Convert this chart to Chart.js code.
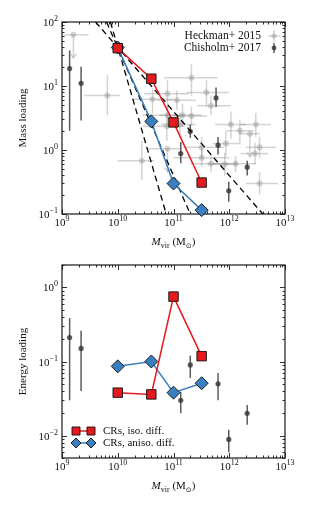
<!DOCTYPE html>
<html>
<head>
<meta charset="utf-8">
<script src="https://cdn.jsdelivr.net/npm/chart.js@4.4.1/dist/chart.umd.min.js"></script>
<style>
    html, body { margin: 0; padding: 0; background: #fff; }
    #wrap { position: relative; width: 315px; height: 510px; }
    canvas { position: absolute; left: 0; }
</style>
</head>
<body>
<div id="wrap">
    <canvas id="massChart" width="315" height="250" style="top:0"></canvas>
    <canvas id="energyChart" width="315" height="260" style="top:250px"></canvas>
</div>
<script>
// ---- simulation results ----
const simMass = [1e10, 4e10, 1e11, 3.2e11];
const isoMassLoading = [39, 13, 2.7, 0.31];
const anisoMassLoading = [40, 2.8, 0.3, 0.115];
const isoEnergyLoading = [0.038, 0.036, 0.75, 0.118];
const anisoEnergyLoading = [0.086, 0.10, 0.038, 0.051];

// ---- dashed guide lines (endpoints) ----
const guideMass = [[4e9, 4e12], [6.3e9, 2e11], [7.4e9, 7.4e10]];
const guideLoading = [100, 0.1];

// ---- Heckman+ 2015 (mass loading) ----
const heckmanMass   = [1.6e9, 6.5e9, 2.1e11, 7.8e10, 4.2e10, 3.9e11, 4.7e11, 1.15e11, 1.45e11, 2.1e11,
                       7.8e10, 7.6e10, 7.8e10, 2.7e10, 3.2e11, 3.2e11, 4.7e11, 1.07e12, 1.55e12, 2.35e12,
                       3.0e12, 3.5e12, 2.9e12, 1.3e12, 3.5e12, 8.7e11, 8.3e11, 1.3e11];
const heckmanEta    = [63, 7.1, 13.5, 7.6, 6.2, 7.9, 4.9, 6.0, 3.5, 3.4,
                       3.5, 2.35, 1.05, 0.68, 1.1, 0.76, 0.61, 2.5, 2.0, 1.8,
                       2.5, 1.1, 0.88, 0.61, 0.30, 1.26, 0.6, 2.5];
const heckmanMassLo = [1.07e9, 2.5e9, 6.8e10, 3.0e10, 1.8e10, 1.7e11, 2.7e11, 5e10, 5.6e10, 1.0e11,
                       2.8e10, 2.8e10, 3.5e10, 1.0e10, 1.5e11, 1.0e11, 2.0e11, 5.6e11, 9e11, 1.5e12,
                       1.6e12, 2.0e12, 1.6e12, 4e11, 2.0e12, 5e11, 5e11, 6e10];
const heckmanMassHi = [3.0e9, 1.1e10, 6.2e11, 1.9e11, 1.0e11, 1.0e12, 1.07e12, 2.5e11, 3.2e11, 4e11,
                       1.6e11, 1.6e11, 1.4e11, 4.5e10, 8e11, 1.0e12, 1.1e12, 2.0e12, 2.8e12, 3.5e12,
                       5.6e12, 7e12, 5e12, 3e12, 7.5e12, 1.6e12, 1.4e12, 2.5e11];
const heckmanEtaLo  = [null, 3.5, 7.1, 4.2, 3.7, 4.7, 3.5, 4.2, 2.3, 2.4,
                       2.5, 1.4, null, 0.34, 0.75, 0.55, 0.45, 1.5, 1.3, null,
                       1.6, 0.75, 0.6, 0.45, 0.2, 0.8, 0.4, 1.6];
const heckmanEtaHi  = [null, 14.7, 22, 12.3, 9.1, 12.3, 7.1, 8.5, 5.3, 4.8,
                       4.8, 3.7, null, 1.4, 1.6, 1.05, 0.85, 4.0, 3.0, null,
                       3.8, 1.6, 1.3, 0.8, 0.45, 2.0, 0.9, 3.7];
const heckmanUpper  = [true, false, false, false, false, false, false, false, false, false,
                       false, false, true, false, false, false, false, false, false, true,
                       false, false, false, false, false, false, false, false];

// ---- Chisholm+ 2017 ----
const chisholmMassTop = [1.37e9, 2.2e9, 1.35e11, 2.0e11, 5.8e11, 6.3e11, 9.8e11, 2.1e12];
const chisholmEta     = [18.7, 11, 0.88, 1.95, 6.5, 1.19, 0.23, 0.54];
const chisholmEtaLo   = [2.0, 2.9, 0.62, 1.55, 4.7, 0.85, 0.155, 0.4];
const chisholmEtaHi   = [36, 20, 1.33, 2.5, 9.5, 1.6, 0.32, 0.68];

const chisholmMassBot = [1.37e9, 2.2e9, 1.35e11, 2.0e11, 6.3e11, 9.8e11, 2.1e12];
const chisholmEnergy   = [0.21, 0.15, 0.030, 0.09, 0.05, 0.0089, 0.020];
const chisholmEnergyLo = [0.030, 0.04, 0.020, 0.06, 0.03, 0.006, 0.014];
const chisholmEnergyHi = [0.385, 0.26, 0.039, 0.12, 0.07, 0.012, 0.026];

// ---- axis ticks ----
const massTickExp = [9, 10, 11, 12, 13];
const massTickExpY = [-1, 0, 1, 2];
const energyTickExpY = [-2, -1, 0];

const FONT = '"Liberation Serif", "DejaVu Serif", serif';
const RED = '#e41a1c';
const BLUE = '#3a7fc0';
const HECK = 'rgba(140,140,140,0.38)';
const CHIS = 'rgba(55,55,55,0.82)';

function pts(xs, ys) {
    return xs.map((x, i) => ({ x: x, y: ys[i] }));
}

function minorValues(expLo, expHi, vmin, vmax) {
    const out = [];
    for (let e = expLo; e <= expHi; e++) {
        for (let m = 2; m <= 9; m++) {
            const v = m * Math.pow(10, e);
            if (v >= vmin && v <= vmax) out.push(v);
        }
    }
    return out;
}

function drawPow(ctx, exp, x, y, align) {
    const base = '10';
    const sup = String(exp).replace('-', '\u2212');
    ctx.font = '11px ' + FONT;
    const wb = ctx.measureText(base).width;
    ctx.font = '8px ' + FONT;
    const ws = ctx.measureText(sup).width;
    const x0 = align === 'center' ? x - (wb + ws) / 2 : x - (wb + ws);
    ctx.textAlign = 'left';
    ctx.textBaseline = 'alphabetic';
    ctx.font = '11px ' + FONT;
    ctx.fillText(base, x0, y);
    ctx.font = '8px ' + FONT;
    ctx.fillText(sup, x0 + wb, y - 5);
}

function drawXTitle(ctx, cx, y) {
    const parts = [
        { t: 'M', f: 'italic 11px ' + FONT, dy: 0 },
        { t: 'vir', f: '8px ' + FONT, dy: 2.5 },
        { t: ' (M', f: '11px ' + FONT, dy: 0 },
        { t: '\u2299', f: '7px "DejaVu Sans", sans-serif', dy: 2.5 },
        { t: ')', f: '11px ' + FONT, dy: 0 }
    ];
    let total = 0;
    parts.forEach(p => { ctx.font = p.f; p.w = ctx.measureText(p.t).width; total += p.w; });
    let x = cx - total / 2;
    ctx.textAlign = 'left';
    ctx.textBaseline = 'alphabetic';
    parts.forEach(p => { ctx.font = p.f; ctx.fillText(p.t, x, y + p.dy); x += p.w; });
}

function drawErrorBar(ctx, x1, y1, x2, y2, color, width) {
    ctx.strokeStyle = color;
    ctx.lineWidth = width;
    ctx.beginPath();
    ctx.moveTo(x1, y1);
    ctx.lineTo(x2, y2);
    ctx.stroke();
}

// axes frame, inward ticks, labels, error bars
function makeAxesPlugin(cfg) {
    return {
        id: 'mplAxes',
        beforeDatasetsDraw(chart) {
            const ctx = chart.ctx;
            const a = chart.chartArea;
            const xs = chart.scales.x;
            const ys = chart.scales.y;
            ctx.save();

            // error bars
            cfg.errors.forEach(err => {
                err.x.forEach((mx, i) => {
                    const px = xs.getPixelForValue(mx);
                    const py = ys.getPixelForValue(err.y[i]);
                    if (err.xlo) {
                        drawErrorBar(ctx, xs.getPixelForValue(err.xlo[i]), py,
                            xs.getPixelForValue(err.xhi[i]), py, err.color, 1.5);
                    }
                    if (err.upper && err.upper[i]) {
                        const tip = ys.getPixelForValue(err.y[i] / Math.pow(10, 0.36));
                        drawErrorBar(ctx, px, py, px, tip, err.color, 1.5);
                        ctx.beginPath();
                        ctx.moveTo(px - 3, tip - 4);
                        ctx.lineTo(px, tip);
                        ctx.lineTo(px + 3, tip - 4);
                        ctx.stroke();
                    } else if (err.ylo[i] !== null) {
                        drawErrorBar(ctx, px, ys.getPixelForValue(err.ylo[i]),
                            px, ys.getPixelForValue(err.yhi[i]), err.color, 1.5);
                    }
                });
            });

            // frame
            ctx.strokeStyle = '#1a1a1a';
            ctx.lineWidth = 1.2;
            ctx.strokeRect(a.left, a.top, a.right - a.left, a.bottom - a.top);

            // ticks
            ctx.lineWidth = 0.9;
            ctx.beginPath();
            const xMaj = cfg.xExp.map(e => Math.pow(10, e));
            const yMaj = cfg.yExp.map(e => Math.pow(10, e));
            const xMin = minorValues(cfg.xExp[0], cfg.xExp[cfg.xExp.length - 1], xs.min, xs.max);
            const yMin = minorValues(cfg.yExp[0] - 1, cfg.yExp[cfg.yExp.length - 1], ys.min, ys.max);
            [[xMaj, 5], [xMin, 2.5]].forEach(([vals, len]) => vals.forEach(v => {
                const px = Math.round(xs.getPixelForValue(v)) + 0.5;
                ctx.moveTo(px, a.bottom); ctx.lineTo(px, a.bottom - len);
                ctx.moveTo(px, a.top); ctx.lineTo(px, a.top + len);
            }));
            [[yMaj, 5], [yMin, 2.5]].forEach(([vals, len]) => vals.forEach(v => {
                const py = Math.round(ys.getPixelForValue(v)) + 0.5;
                ctx.moveTo(a.left, py); ctx.lineTo(a.left + len, py);
                ctx.moveTo(a.right, py); ctx.lineTo(a.right - len, py);
            }));
            ctx.stroke();

            // tick labels
            ctx.fillStyle = '#111';
            cfg.xExp.forEach(e => drawPow(ctx, e, xs.getPixelForValue(Math.pow(10, e)), a.bottom + 12, 'center'));
            cfg.yExp.forEach(e => drawPow(ctx, e, a.left - 4, ys.getPixelForValue(Math.pow(10, e)) + 4, 'right'));

            // axis titles
            drawXTitle(ctx, (a.left + a.right) / 2, a.bottom + 31);
            ctx.save();
            ctx.translate(23, (a.top + a.bottom) / 2);
            ctx.rotate(-Math.PI / 2);
            ctx.font = '11px ' + FONT;
            ctx.textAlign = 'center';
            ctx.textBaseline = 'middle';
            ctx.fillText(cfg.yTitle, 0, 0);
            ctx.restore();

            ctx.restore();
        },
        afterDatasetsDraw(chart) {
            if (cfg.legend) cfg.legend(chart.ctx, chart.chartArea);
        }
    };
}

function obsLegend(ctx, a) {
    ctx.save();
    ctx.font = '11.5px ' + FONT;
    ctx.fillStyle = '#111';
    ctx.textAlign = 'right';
    ctx.textBaseline = 'middle';
    ctx.fillText('Heckman+ 2015', 261, 36);
    ctx.fillText('Chisholm+ 2017', 261, 48);
    // Heckman icon
    drawErrorBar(ctx, 268, 36, 280, 36, HECK, 1.5);
    drawErrorBar(ctx, 274, 30, 274, 42, HECK, 1.5);
    ctx.fillStyle = HECK;
    ctx.beginPath(); ctx.arc(274, 36, 2.6, 0, Math.PI * 2); ctx.fill();
    // Chisholm icon
    drawErrorBar(ctx, 274, 43, 274, 53, CHIS, 1.5);
    ctx.fillStyle = CHIS;
    ctx.beginPath(); ctx.arc(274, 48, 2.4, 0, Math.PI * 2); ctx.fill();
    ctx.restore();
}

function simLegend(ctx, a) {
    ctx.save();
    const rows = [
        { label: 'CRs, iso. diff.', color: RED, y: 181, shape: 'sq' },
        { label: 'CRs, aniso. diff.', color: BLUE, y: 193, shape: 'dia' }
    ];
    rows.forEach(r => {
        drawErrorBar(ctx, 76, r.y, 91, r.y, r.color, 1.5);
        [76, 91].forEach(x => {
            ctx.fillStyle = r.color;
            ctx.strokeStyle = '#111';
            ctx.lineWidth = 0.9;
            ctx.beginPath();
            if (r.shape === 'sq') {
                ctx.rect(x - 4, r.y - 4, 8, 8);
            } else {
                ctx.moveTo(x, r.y - 5); ctx.lineTo(x + 5, r.y);
                ctx.lineTo(x, r.y + 5); ctx.lineTo(x - 5, r.y);
                ctx.closePath();
            }
            ctx.fill();
            ctx.stroke();
        });
        ctx.fillStyle = '#111';
        ctx.font = '11px ' + FONT;
        ctx.textAlign = 'left';
        ctx.textBaseline = 'middle';
        ctx.fillText(r.label, 103, r.y);
    });
    ctx.restore();
}

function simDatasets(isoVals, anisoVals) {
    return [
        {
            label: 'CRs, iso. diff.',
            data: pts(simMass, isoVals),
            showLine: true,
            borderColor: RED,
            borderWidth: 1.5,
            pointStyle: 'rect',
            pointRadius: 6.7,
            pointBackgroundColor: RED,
            pointBorderColor: '#111',
            pointBorderWidth: 0.9,
            clip: false,
            order: 1
        },
        {
            label: 'CRs, aniso. diff.',
            data: pts(simMass, anisoVals),
            showLine: true,
            borderColor: BLUE,
            borderWidth: 1.5,
            pointStyle: 'rectRot',
            pointRadius: 6.5,
            pointBackgroundColor: BLUE,
            pointBorderColor: '#111',
            pointBorderWidth: 0.9,
            clip: false,
            order: 2
        }
    ];
}

function baseOptions(ymin, ymax, padding) {
    return {
        responsive: false,
        animation: false,
        devicePixelRatio: 1,
        layout: { padding: padding },
        plugins: { legend: { display: false }, tooltip: { enabled: false } },
        scales: {
            x: { type: 'logarithmic', min: 1e9, max: 1e13, display: false },
            y: { type: 'logarithmic', min: ymin, max: ymax, display: false }
        }
    };
}

// ---- top panel: mass loading ----
const guideSets = guideMass.map(xs => ({
    data: pts(xs, guideLoading),
    showLine: true,
    borderColor: '#000',
    borderWidth: 1.3,
    borderDash: [6, 4],
    pointRadius: 0,
    order: 3
}));

new Chart(document.getElementById('massChart'), {
    type: 'scatter',
    data: {
        datasets: [
            ...simDatasets(isoMassLoading, anisoMassLoading),
            ...guideSets,
            {
                label: 'Chisholm+ 2017',
                data: pts(chisholmMassTop, chisholmEta),
                pointRadius: 2.6,
                pointBackgroundColor: CHIS,
                pointBorderWidth: 0,
                order: 4
            },
            {
                label: 'Heckman+ 2015',
                data: pts(heckmanMass, heckmanEta),
                pointRadius: 3,
                pointBackgroundColor: HECK,
                pointBorderWidth: 0,
                order: 5
            }
        ]
    },
    options: baseOptions(0.1, 100, { left: 62, top: 22, right: 30, bottom: 36 }),
    plugins: [makeAxesPlugin({
        xExp: massTickExp,
        yExp: massTickExpY,
        yTitle: 'Mass loading',
        legend: obsLegend,
        errors: [
            { x: heckmanMass, y: heckmanEta, xlo: heckmanMassLo, xhi: heckmanMassHi,
              ylo: heckmanEtaLo, yhi: heckmanEtaHi, upper: heckmanUpper, color: HECK },
            { x: chisholmMassTop, y: chisholmEta, ylo: chisholmEtaLo, yhi: chisholmEtaHi, color: CHIS }
        ]
    })]
});

// ---- bottom panel: energy loading ----
new Chart(document.getElementById('energyChart'), {
    type: 'scatter',
    data: {
        datasets: [
            ...simDatasets(isoEnergyLoading, anisoEnergyLoading),
            {
                label: 'Chisholm+ 2017',
                data: pts(chisholmMassBot, chisholmEnergy),
                pointRadius: 2.6,
                pointBackgroundColor: CHIS,
                pointBorderWidth: 0,
                order: 4
            }
        ]
    },
    options: baseOptions(0.005, 2, { left: 62, top: 15, right: 30, bottom: 52 }),
    plugins: [makeAxesPlugin({
        xExp: massTickExp,
        yExp: energyTickExpY,
        yTitle: 'Energy loading',
        legend: simLegend,
        errors: [
            { x: chisholmMassBot, y: chisholmEnergy, ylo: chisholmEnergyLo, yhi: chisholmEnergyHi, color: CHIS }
        ]
    })]
});
</script>
</body>
</html>
